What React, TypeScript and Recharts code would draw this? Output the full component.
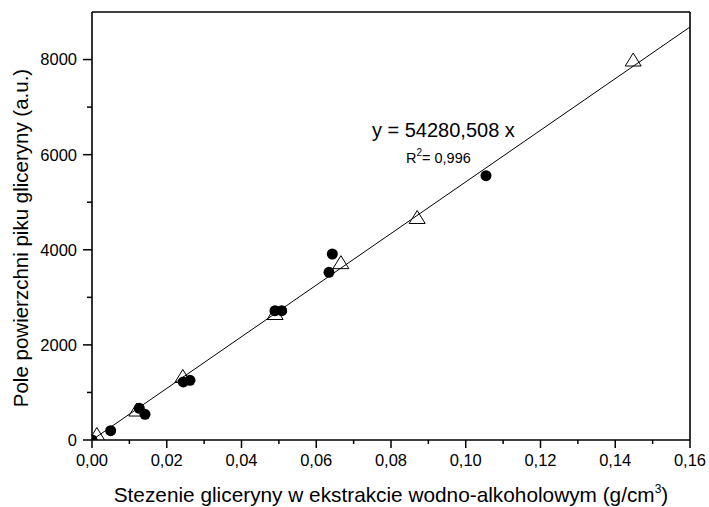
import React from 'react';
import { ScatterChart, Scatter, XAxis, YAxis, ReferenceLine } from 'recharts';

// ---- data ----
const circleX = [0, 0.005, 0.01266, 0.01418, 0.02443, 0.02622, 0.04896, 0.05076, 0.06341, 0.0643, 0.10542];
const circleY = [0, 196, 667, 540, 1220, 1255, 2719, 2719, 3526, 3911, 5558];
const triangleX = [0.0013, 0.012, 0.0243, 0.049, 0.0666, 0.087, 0.1448];
const triangleY = [115, 630, 1335, 2660, 3729, 4679, 7990];
const SLOPE = 54280.508;
const R2 = '0,996';
const xTicks = [0, 0.01, 0.02, 0.03, 0.04, 0.05, 0.06, 0.07, 0.08, 0.09, 0.1, 0.11, 0.12, 0.13, 0.14, 0.15, 0.16];
const yTicks = [0, 1000, 2000, 3000, 4000, 5000, 6000, 7000, 8000];
const X_MAX = 0.16;
const Y_MAX = 9000;
const xTitle = 'Stezenie gliceryny w ekstrakcie wodno-alkoholowym (g/cm';
const yTitle = 'Pole powierzchni piku gliceryny (a.u.)';
const eqText = 'y = 54280,508 x';

const circles = circleX.map((x, i) => ({ x, y: circleY[i] }));
const triangles = triangleX.map((x, i) => ({ x, y: triangleY[i] }));
const eqAnchor = [{ x: 0.0749, y: 6371 }];

const FONT = '"Liberation Sans", Arial, Helvetica, sans-serif';

const fmtX = (v: number) => v.toFixed(2).replace('.', ',');

const XTick = (props: any) => {
  const { x, y, payload } = props;
  const v = payload.value;
  const major = Math.round(v * 100) % 2 === 0;
  return (
    <g>
      <line x1={x} x2={x} y1={y} y2={y + (major ? 8 : 4)} stroke="#000" strokeWidth={1.5} />
      {major && (
        <text x={x} y={y + 26} textAnchor="middle" fontSize={16.5} fontFamily={FONT} fill="#000">
          {fmtX(v)}
        </text>
      )}
    </g>
  );
};

const YTick = (props: any) => {
  const { x, y, payload } = props;
  const v = payload.value;
  const major = v % 2000 === 0;
  return (
    <g>
      <line x1={x - (major ? 9 : 5)} x2={x} y1={y} y2={y} stroke="#000" strokeWidth={1.5} />
      {major && (
        <text x={x - 15} y={y} dy="0.36em" textAnchor="end" fontSize={16.5} fontFamily={FONT} fill="#000">
          {String(v)}
        </text>
      )}
    </g>
  );
};

const TriangleShape = (props: any) => {
  const { cx, cy } = props;
  if (cx == null || cy == null) return null;
  const d = `M${cx},${cy - 7} L${cx + 8},${cy + 6} L${cx - 8},${cy + 6} Z`;
  return <path d={d} fill="none" stroke="#000" strokeWidth={1} />;
};

const CircleShape = (props: any) => {
  const { cx, cy } = props;
  if (cx == null || cy == null) return null;
  return <circle cx={cx} cy={cy} r={5.5} fill="#000" />;
};

const EqShape = (props: any) => {
  const { cx, cy } = props;
  if (cx == null || cy == null) return null;
  return (
    <g>
      <text x={cx} y={cy} fontSize={20} fontFamily={FONT} fill="#000">
        {eqText}
      </text>
      <text x={cx + 34} y={cy + 26} fontSize={14.5} fontFamily={FONT} fill="#000">
        R
        <tspan dy={-7} fontSize={10}>2</tspan>
        <tspan dy={7} fontSize={14.5}>{'= ' + R2}</tspan>
      </text>
    </g>
  );
};

const XTitle = (props: any) => {
  const vb = props.viewBox || {};
  const cx = vb.x + vb.width / 2;
  const y = vb.y + 62;
  return (
    <text x={cx} y={y} textAnchor="middle" fontSize={20.8} fontFamily={FONT} fill="#000">
      {xTitle}
      <tspan dy={-9} fontSize={12}>3</tspan>
      <tspan dy={9} fontSize={20.8}>)</tspan>
    </text>
  );
};

const YTitle = (props: any) => {
  const cx = 20;
  const cy = 238;
  return (
    <text
      x={cx}
      y={cy}
      textAnchor="middle"
      dominantBaseline="central"
      transform={`rotate(-90 ${cx} ${cy})`}
      fontSize={20.5}
      fontFamily={FONT}
      fill="#000"
    >
      {yTitle}
    </text>
  );
};

export default function App() {
  return (
    <div style={{ position: 'absolute', left: 0, top: 0, width: 709, height: 507, background: '#fff' }}>
      <ScatterChart width={709} height={507} margin={{ top: 12, right: 19, left: 0, bottom: 0 }}>
        <XAxis
          type="number"
          dataKey="x"
          domain={[0, X_MAX]}
          ticks={xTicks}
          interval={0}
          allowDataOverflow
          tickSize={0}
          tickMargin={0}
          tickLine={false}
          tick={<XTick />}
          axisLine={{ stroke: '#000', strokeWidth: 1.6 }}
          height={67}
          label={<XTitle />}
        />
        <YAxis
          type="number"
          dataKey="y"
          domain={[0, Y_MAX]}
          ticks={yTicks}
          interval={0}
          allowDataOverflow
          tickSize={0}
          tickMargin={0}
          tickLine={false}
          tick={<YTick />}
          axisLine={{ stroke: '#000', strokeWidth: 1.6 }}
          width={92}
          label={<YTitle />}
        />
        <ReferenceLine y={Y_MAX} stroke="#000" strokeWidth={1.6} />
        <ReferenceLine x={X_MAX} stroke="#000" strokeWidth={1.6} />
        <ReferenceLine
          segment={[{ x: 0, y: 0 }, { x: X_MAX, y: SLOPE * X_MAX }]}
          stroke="#000"
          strokeWidth={1}
        />
        <Scatter data={triangles} shape={<TriangleShape />} isAnimationActive={false} />
        <Scatter data={circles} shape={<CircleShape />} isAnimationActive={false} />
        <Scatter data={eqAnchor} shape={<EqShape />} isAnimationActive={false} />
      </ScatterChart>
    </div>
  );
}
